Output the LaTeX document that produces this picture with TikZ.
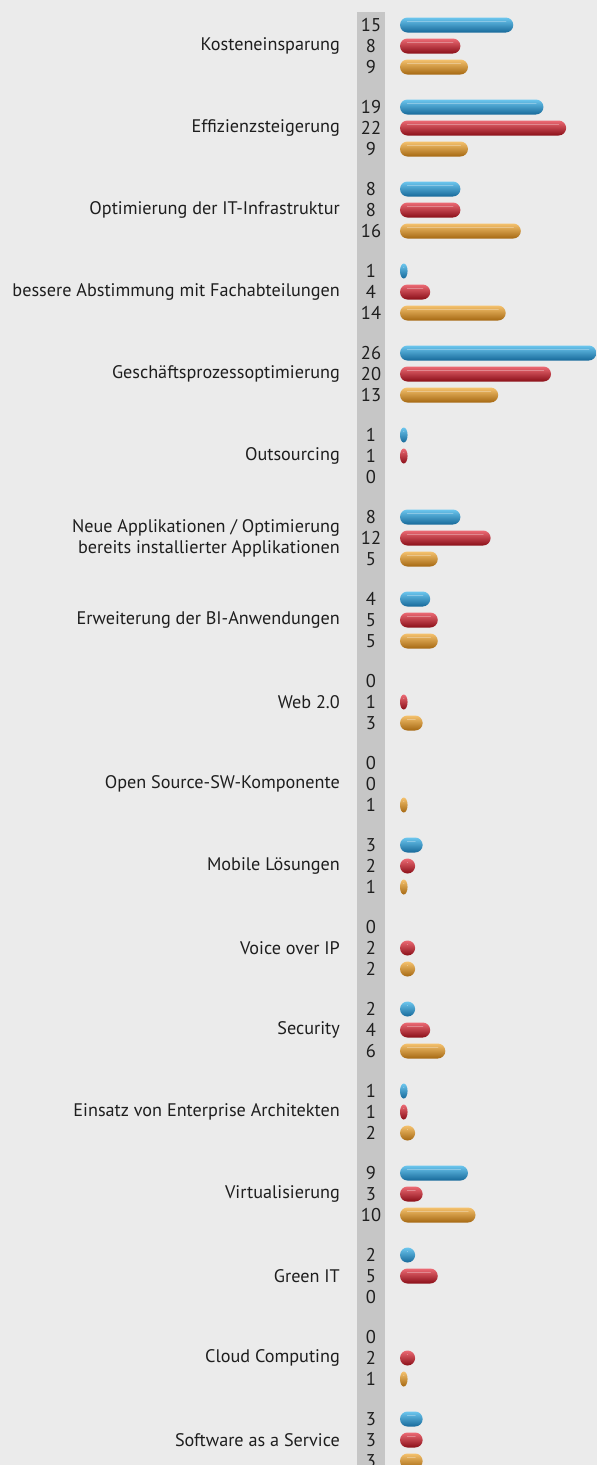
\documentclass[tikz,border=0pt]{standalone}
\usepackage{fontspec}
\setmainfont{PT Sans}
\usepackage{tikz}
\usetikzlibrary{positioning}
\definecolor{bgcol}{HTML}{EBEBEB}
\definecolor{bandcol}{HTML}{C6C6C6}
\definecolor{txtcol}{HTML}{1E1E1E}
\definecolor{bluemid}{HTML}{2895CF}
\definecolor{bluetop}{HTML}{6CC6EE}
\definecolor{bluebot}{HTML}{17699A}
\definecolor{redmid}{HTML}{CB1F2D}
\definecolor{redtop}{HTML}{EC6A74}
\definecolor{redbot}{HTML}{8A0F18}
\definecolor{orangemid}{HTML}{DF9328}
\definecolor{orangetop}{HTML}{F5C26E}
\definecolor{orangebot}{HTML}{A56812}

\begin{document}
\begin{tikzpicture}[x=1pt,y=-1pt,
        lab/.style={anchor=east,align=right,inner sep=0pt,text=txtcol,
            font=\fontsize{18.2}{21}\selectfont},
        num/.style={anchor=center,inner sep=0pt,text=txtcol,
            font=\fontsize{18.5}{20}\selectfont},
        pillblue/.style={top color=bluetop,middle color=bluemid,bottom color=bluebot},
        pillred/.style={top color=redtop,middle color=redmid,bottom color=redbot},
        pillorange/.style={top color=orangetop,middle color=orangemid,bottom color=orangebot},
        shine/.style={draw=white,opacity=0.3,line width=1.2pt,line cap=round}
    ]
    \useasboundingbox (0,0) rectangle (597,1465);
    \fill[bgcol] (0,0) rectangle (597,1465);
    \fill[bandcol] (357,12) rectangle (385,1465);
    \foreach \txt/\a/\b/\c [count=\i] in {
            Kosteneinsparung/15/8/9,
            Effizienzsteigerung/19/22/9,
            Optimierung der IT-Infrastruktur/8/8/16,
            bessere Abstimmung mit Fachabteilungen/1/4/14,
            Geschäftsprozessoptimierung/26/20/13,
            Outsourcing/1/1/0,
            {Neue Applikationen / Optimierung\\bereits installierter Applikationen}/8/12/5,
            Erweiterung der BI-Anwendungen/4/5/5,
            Web 2.0/0/1/3,
            Open Source-SW-Komponente/0/0/1,
            Mobile Lösungen/3/2/1,
            Voice over IP/0/2/2,
            Security/2/4/6,
            Einsatz von Enterprise Architekten/1/1/2,
            Virtualisierung/9/3/10,
            Green IT/2/5/0,
            Cloud Computing/0/2/1,
            Software as a Service/3/3/3}{
        \pgfmathsetmacro\yy{25+82*(\i-1)}
        \node[lab] (lab\i) at (340,\yy+21) {\txt};
        \foreach \v/\col [count=\j] in {\a/blue,\b/red,\c/orange}{
            \pgfmathsetmacro\yb{\yy+21*(\j-1)}
            \node[num] (n\i-\j) at (371,\yb) {\v};
            \ifnum\v>0
                \pgfmathsetmacro\w{7.55*\v}
                \pgfmathsetmacro\rx{min(\w/2,7.5)}
                \shade[pill\col] (400+\rx,\yb-7.5) -- (400+\w-\rx,\yb-7.5)
                    arc[start angle=-90,end angle=90,x radius=\rx,y radius=7.5]
                    -- (400+\rx,\yb+7.5)
                    arc[start angle=90,end angle=270,x radius=\rx,y radius=7.5] -- cycle;
                \draw[shine] (400+\rx,\yb-3.5) -- (400+\w-\rx,\yb-3.5);
            \fi
        }
    }
\end{tikzpicture}
\end{document}
